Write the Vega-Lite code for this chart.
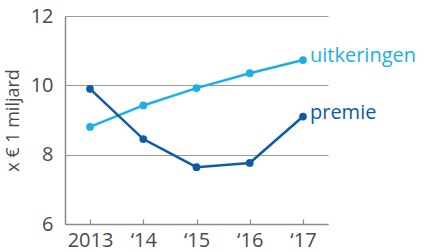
{
  "$schema": "https://vega.github.io/schema/vega-lite/v6.json",
  "autosize": {"type": "none"},
  "padding": {"left": 65, "top": 16, "right": 96, "bottom": 28},
  "width": 263,
  "height": 208,
  "background": "white",
  "config": {
    "view": {"stroke": null},
    "font": "Open Sans",
    "axis": {"labelFont": "Open Sans", "titleFont": "Open Sans"}
  },
  "data": {
    "values": [
      {"jaar": "2013", "serie": "uitkeringen", "waarde": 8.8},
      {"jaar": "‘14", "serie": "uitkeringen", "waarde": 9.42},
      {"jaar": "‘15", "serie": "uitkeringen", "waarde": 9.92},
      {"jaar": "‘16", "serie": "uitkeringen", "waarde": 10.35},
      {"jaar": "‘17", "serie": "uitkeringen", "waarde": 10.73},
      {"jaar": "2013", "serie": "premie", "waarde": 9.9},
      {"jaar": "‘14", "serie": "premie", "waarde": 8.45},
      {"jaar": "‘15", "serie": "premie", "waarde": 7.64},
      {"jaar": "‘16", "serie": "premie", "waarde": 7.76},
      {"jaar": "‘17", "serie": "premie", "waarde": 9.1}
    ]
  },
  "encoding": {
    "x": {
      "field": "jaar", "type": "ordinal", "sort": null,
      "scale": {"type": "point", "padding": 0.47},
      "axis": {
        "title": null, "labelAngle": 0, "labelFontSize": 20, "labelColor": "#4a4a4a",
        "domainColor": "#8a8a8a", "domainWidth": 1.5, "tickColor": "#8a8a8a",
        "tickSize": -5, "tickWidth": 1.2, "labelPadding": 11, "grid": false
      }
    },
    "y": {
      "field": "waarde", "type": "quantitative",
      "scale": {"domain": [6, 12], "nice": false, "zero": false},
      "axis": {
        "values": [6, 8, 10, 12], "title": "x € 1 miljard", "titleFontSize": 18,
        "titleFontWeight": "normal", "titleColor": "#4a4a4a", "titlePadding": 8,
        "labelFontSize": 20, "labelColor": "#4a4a4a", "labelPadding": 12,
        "ticks": false, "domainColor": "#8a8a8a", "domainWidth": 1.5,
        "grid": true, "gridColor": "#9a9a9a", "gridWidth": 1.2
      }
    },
    "color": {
      "field": "serie", "type": "nominal",
      "scale": {"domain": ["uitkeringen", "premie"], "range": ["#1eaee6", "#0d5aa5"]},
      "legend": null
    }
  },
  "layer": [
    {"mark": {"type": "line", "strokeWidth": 2.5}},
    {"mark": {"type": "point", "filled": true, "size": 60, "opacity": 1}},
    {
      "transform": [{"filter": "datum.jaar == '‘17'"}],
      "mark": {"type": "text", "align": "left", "dx": 7, "dy": -4, "fontSize": 20, "baseline": "middle"},
      "encoding": {"text": {"field": "serie"}}
    }
  ]
}
